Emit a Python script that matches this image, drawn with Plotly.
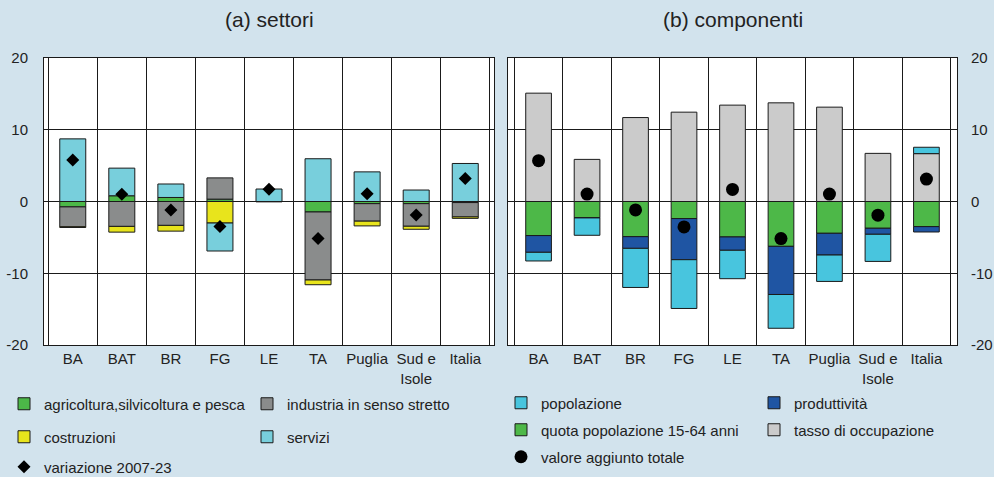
import plotly.graph_objects as go

categories = ["BA", "BAT", "BR", "FG", "LE", "TA", "Puglia", "Sud e<br>Isole", "Italia"]

# (a) settori
agricoltura = [-0.75, 0.8, 0.56, 0.33, 0.0, -1.46, -0.3, -0.3, -0.15]
industria = [-2.77, -3.47, -3.33, 2.96, -0.05, -9.48, -2.44, -3.15, -2.0]
costruzioni = [-0.1, -0.8, -0.8, -3.0, 0.0, -0.66, -0.66, -0.42, -0.2]
servizi = [8.73, 3.85, 1.88, -3.9, 1.74, 5.96, 4.13, 1.6, 5.3]
variazione = [5.77, 1.0, -1.17, -3.5, 1.69, -5.16, 1.08, -1.88, 3.19]

# (b) componenti
popolazione = [-1.21, -2.42, -5.45, -6.8, -3.96, -4.71, -3.68, -3.78, 0.89]
produttivita = [-2.33, -0.05, -1.63, -5.73, -1.86, -6.71, -3.03, -0.84, -0.75]
quota = [-4.75, -2.24, -4.9, -2.38, -4.94, -6.25, -4.43, -3.73, -3.5]
tasso = [15.1, 5.87, 11.7, 12.45, 13.43, 13.75, 13.15, 6.71, 6.67]
valore = [5.69, 1.03, -1.17, -3.54, 1.68, -5.17, 1.03, -1.91, 3.12]

y_ticks = [-20, -10, 0, 10, 20]
y_tick_labels = ["-20", "-10", "0", "10", "20"]

BG = "#d2e3ed"
INK = "#222222"
FONT = "Liberation Sans, Arial, sans-serif"
LINE = dict(color="#1a1a1a", width=1)

fig = go.Figure()

def bar(name, y, color, xa, ya, legend, rank):
    fig.add_trace(go.Bar(
        x=categories, y=y, name=name, marker=dict(color=color, line=LINE),
        xaxis=xa, yaxis=ya, width=0.53, legend=legend, legendrank=rank,
    ))

bar("agricoltura,silvicoltura e pesca", agricoltura, "#4cb848", "x", "y", "legend", 1)
bar("industria in senso stretto", industria, "#8a8c8c", "x", "y", "legend", 2)
bar("costruzioni", costruzioni, "#e8e41c", "x", "y", "legend2", 1)
bar("servizi", servizi, "#78cfdc", "x", "y", "legend2", 2)
fig.add_trace(go.Scatter(
    x=categories, y=variazione, name="variazione 2007-23", mode="markers",
    marker=dict(symbol="diamond", size=10, color="black"),
    xaxis="x", yaxis="y", legend="legend3",
))

bar("quota popolazione 15-64 anni", quota, "#4db848", "x2", "y2", "legend5", 1)
bar("tasso di occupazione", tasso, "#cbcbcb", "x2", "y2", "legend5", 2)
bar("produttività", produttivita, "#1f55a3", "x2", "y2", "legend4", 2)
bar("popolazione", popolazione, "#48c5de", "x2", "y2", "legend4", 1)
fig.add_trace(go.Scatter(
    x=categories, y=valore, name="valore aggiunto totale", mode="markers",
    marker=dict(symbol="circle", size=13, color="black"),
    xaxis="x2", yaxis="y2", legend="legend6",
))

xcommon = dict(
    type="category", tickson="boundaries", showgrid=True, gridcolor="#1a1a1a",
    gridwidth=1, ticks="", showline=True, linecolor="#1a1a1a", mirror=True,
    tickfont=dict(size=15, color=INK), tickangle=0, automargin=False,
    fixedrange=True,
)
ycommon = dict(
    range=[-20, 20], tickvals=y_ticks, ticktext=y_tick_labels, showgrid=True,
    gridcolor="#1a1a1a", gridwidth=1, zeroline=True, zerolinecolor="#1a1a1a",
    zerolinewidth=1, showline=True, linecolor="#1a1a1a", mirror=True, ticks="",
    tickfont=dict(size=15, color=INK), automargin=False, fixedrange=True,
)

legend_common = dict(
    orientation="h", xanchor="left", yanchor="middle", bgcolor="rgba(0,0,0,0)",
    font=dict(size=15, color=INK, family=FONT), tracegroupgap=0,
)

fig.update_layout(
    width=994, height=477,
    margin=dict(l=0, r=0, t=0, b=0, autoexpand=False),
    paper_bgcolor=BG, plot_bgcolor="white",
    font=dict(family=FONT, color=INK, size=15),
    barmode="relative", bargap=0.47,
    showlegend=True,
    xaxis=dict(domain=[44 / 994, 494 / 994], anchor="y", **xcommon),
    yaxis=dict(domain=[1 - 345 / 477, 1 - 58 / 477], anchor="x", side="left",
               ticklabelstandoff=12, **ycommon),
    xaxis2=dict(domain=[508 / 994, 957 / 994], anchor="y2", **xcommon),
    yaxis2=dict(domain=[1 - 345 / 477, 1 - 58 / 477], anchor="x2", side="right",
                ticklabelstandoff=10, **ycommon),
    legend=dict(x=4 / 994, y=1 - 404 / 477, entrywidth=198, **legend_common),
    legend2=dict(x=4 / 994, y=1 - 437 / 477, entrywidth=198, **legend_common),
    legend3=dict(x=4 / 994, y=1 - 467 / 477, entrywidth=198, **legend_common),
    legend4=dict(x=501 / 994, y=1 - 403 / 477, entrywidth=208, **legend_common),
    legend5=dict(x=501 / 994, y=1 - 430 / 477, entrywidth=208, **legend_common),
    legend6=dict(x=501 / 994, y=1 - 457 / 477, entrywidth=208, **legend_common),
    annotations=[
        dict(text="(a) settori", xref="x domain", yref="paper", x=0.5, y=1 - 20 / 477,
             xanchor="center", yanchor="middle", showarrow=False,
             font=dict(size=21, color=INK)),
        dict(text="(b) componenti", xref="x2 domain", yref="paper", x=0.5, y=1 - 20 / 477,
             xanchor="center", yanchor="middle", showarrow=False,
             font=dict(size=21, color=INK)),
    ],
)

fig.write_html(
    "out.html",
    config={"displayModeBar": False},
    post_script="document.body.style.margin='0';document.body.style.overflow='hidden';",
)
